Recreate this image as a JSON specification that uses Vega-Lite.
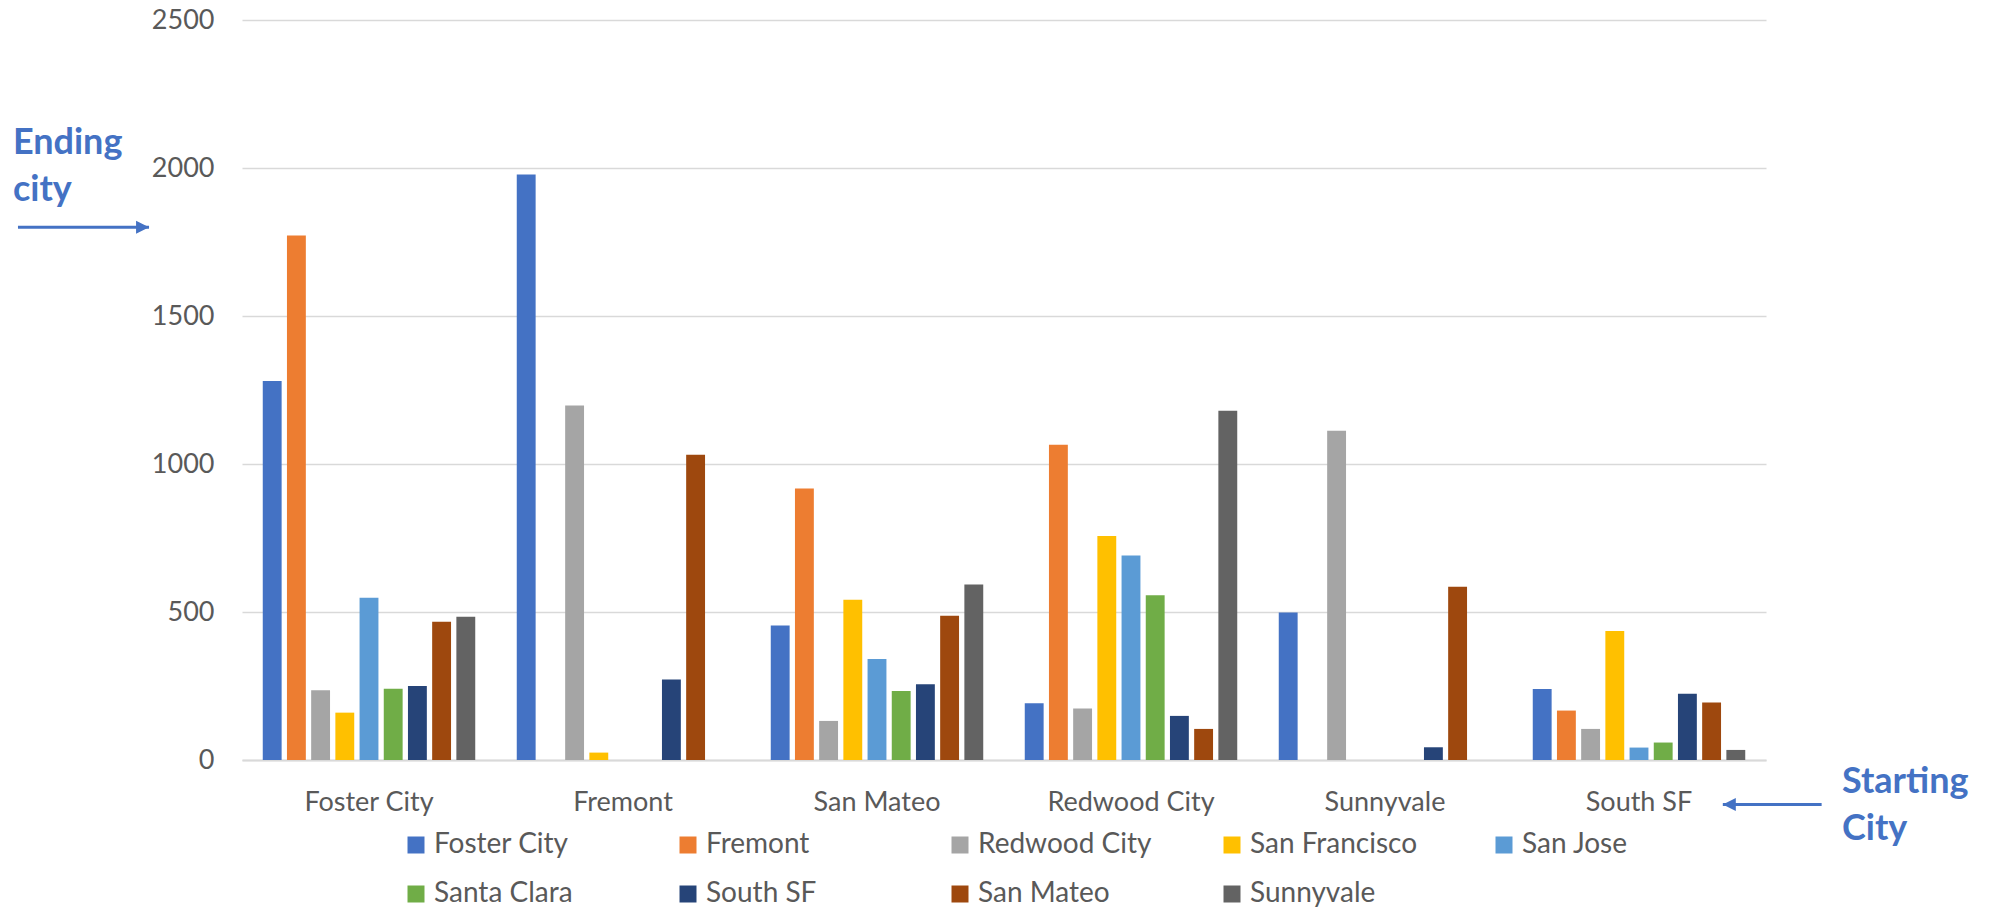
{
  "$schema": "https://vega.github.io/schema/vega-lite/v6.json",
  "autosize": {"type": "none"},
  "padding": {"left": 242, "top": 20, "right": 230, "bottom": 150},
  "width": 1524,
  "height": 740,
  "background": "white",
  "config": {
    "view": {"stroke": null},
    "font": "Lato",
    "axis": {"labelFont": "Lato", "labelColor": "#595959", "labelFontSize": 27},
    "legend": {"labelFont": "Lato", "labelColor": "#595959", "labelFontSize": 28}
  },
  "datasets": {
    "trips": [
      {"start": "Foster City", "end": "Foster City", "trips": 1280},
      {"start": "Foster City", "end": "Fremont", "trips": 1772},
      {"start": "Foster City", "end": "Redwood City", "trips": 236},
      {"start": "Foster City", "end": "San Francisco", "trips": 160},
      {"start": "Foster City", "end": "San Jose", "trips": 548},
      {"start": "Foster City", "end": "Santa Clara", "trips": 241},
      {"start": "Foster City", "end": "South SF", "trips": 250},
      {"start": "Foster City", "end": "San Mateo", "trips": 467},
      {"start": "Foster City", "end": "Sunnyvale", "trips": 484},
      {"start": "Fremont", "end": "Foster City", "trips": 1978},
      {"start": "Fremont", "end": "Redwood City", "trips": 1198},
      {"start": "Fremont", "end": "San Francisco", "trips": 25},
      {"start": "Fremont", "end": "South SF", "trips": 272},
      {"start": "Fremont", "end": "San Mateo", "trips": 1031},
      {"start": "San Mateo", "end": "Foster City", "trips": 454},
      {"start": "San Mateo", "end": "Fremont", "trips": 917},
      {"start": "San Mateo", "end": "Redwood City", "trips": 132},
      {"start": "San Mateo", "end": "San Francisco", "trips": 541},
      {"start": "San Mateo", "end": "San Jose", "trips": 341},
      {"start": "San Mateo", "end": "Santa Clara", "trips": 233},
      {"start": "San Mateo", "end": "South SF", "trips": 256},
      {"start": "San Mateo", "end": "San Mateo", "trips": 487},
      {"start": "San Mateo", "end": "Sunnyvale", "trips": 593},
      {"start": "Redwood City", "end": "Foster City", "trips": 192},
      {"start": "Redwood City", "end": "Fremont", "trips": 1065},
      {"start": "Redwood City", "end": "Redwood City", "trips": 174},
      {"start": "Redwood City", "end": "San Francisco", "trips": 757},
      {"start": "Redwood City", "end": "San Jose", "trips": 691},
      {"start": "Redwood City", "end": "Santa Clara", "trips": 557},
      {"start": "Redwood City", "end": "South SF", "trips": 149},
      {"start": "Redwood City", "end": "San Mateo", "trips": 105},
      {"start": "Redwood City", "end": "Sunnyvale", "trips": 1180},
      {"start": "Sunnyvale", "end": "Foster City", "trips": 498},
      {"start": "Sunnyvale", "end": "Redwood City", "trips": 1112},
      {"start": "Sunnyvale", "end": "South SF", "trips": 43},
      {"start": "Sunnyvale", "end": "San Mateo", "trips": 585},
      {"start": "South SF", "end": "Foster City", "trips": 240},
      {"start": "South SF", "end": "Fremont", "trips": 167},
      {"start": "South SF", "end": "Redwood City", "trips": 105},
      {"start": "South SF", "end": "San Francisco", "trips": 436},
      {"start": "South SF", "end": "San Jose", "trips": 42},
      {"start": "South SF", "end": "Santa Clara", "trips": 59},
      {"start": "South SF", "end": "South SF", "trips": 224},
      {"start": "South SF", "end": "San Mateo", "trips": 194},
      {"start": "South SF", "end": "Sunnyvale", "trips": 34}
    ],
    "notes": [
      {"label": "Ending", "ax": -0.902, "ay": 2047},
      {"label": "city", "ax": -0.902, "ay": 1888},
      {"label": "Starting", "ax": 6.299, "ay": -112},
      {"label": "City", "ax": 6.299, "ay": -270}
    ],
    "arrows": [
      {"dir": "right", "tail": -0.882, "tip": -0.366, "ay": 1800},
      {"dir": "left", "tail": 6.219, "tip": 5.830, "ay": -150}
    ]
  },
  "layer": [
    {
      "data": {"name": "trips"},
      "mark": {"type": "bar"},
      "encoding": {
        "x": {
          "field": "start",
          "type": "nominal",
          "sort": ["Foster City", "Fremont", "San Mateo", "Redwood City", "Sunnyvale", "South SF"],
          "scale": {"paddingInner": 0.1425, "paddingOuter": 0.07125},
          "axis": {
            "title": null,
            "labelAngle": 0,
            "ticks": false,
            "labelPadding": 29,
            "domainColor": "#D9D9D9",
            "domainWidth": 2,
            "grid": false
          }
        },
        "xOffset": {
          "field": "end",
          "type": "nominal",
          "scale": {
            "domain": ["Foster City", "Fremont", "Redwood City", "San Francisco", "San Jose", "Santa Clara", "South SF", "San Mateo", "Sunnyvale"],
            "paddingInner": 0.22,
            "paddingOuter": 0.11
          }
        },
        "y": {
          "field": "trips",
          "type": "quantitative",
          "scale": {"domain": [0, 2500], "nice": false},
          "axis": {
            "title": null,
            "values": [0, 500, 1000, 1500, 2000, 2500],
            "format": "d",
            "domain": false,
            "ticks": false,
            "labelPadding": 28,
            "gridColor": "#D9D9D9",
            "gridWidth": 1.5
          }
        },
        "color": {
          "field": "end",
          "type": "nominal",
          "scale": {
            "domain": ["Foster City", "Fremont", "Redwood City", "San Francisco", "San Jose", "Santa Clara", "South SF", "San Mateo", "Sunnyvale"],
            "range": ["#4472C4", "#ED7D31", "#A5A5A5", "#FFC000", "#5B9BD5", "#70AD47", "#264478", "#9E480E", "#636363"]
          },
          "legend": {
            "title": null,
            "orient": "none",
            "legendX": 160,
            "legendY": 811,
            "direction": "horizontal",
            "columns": 5,
            "gridAlign": "all",
            "symbolType": "square",
            "symbolSize": 289,
            "symbolStrokeWidth": 0,
            "labelOffset": 4,
            "labelLimit": 300,
            "columnPadding": 66,
            "rowPadding": 21,
            "padding": 0
          }
        }
      }
    },
    {
      "data": {"name": "arrows"},
      "mark": {"type": "rule", "color": "#4472C4", "strokeWidth": 3, "clip": false},
      "encoding": {
        "x": {"field": "tail", "type": "quantitative", "scale": {"domain": [0, 6], "nice": false, "zero": false}, "axis": null},
        "x2": {"field": "tip"},
        "y": {"field": "ay", "type": "quantitative", "scale": {"domain": [0, 2500], "nice": false}}
      }
    },
    {
      "data": {"name": "arrows"},
      "mark": {"type": "point", "filled": true, "opacity": 1, "color": "#4472C4", "size": 676, "strokeWidth": 0, "clip": false},
      "encoding": {
        "x": {"field": "tip", "type": "quantitative", "scale": {"domain": [0, 6], "nice": false, "zero": false}, "axis": null},
        "y": {"field": "ay", "type": "quantitative", "scale": {"domain": [0, 2500], "nice": false}},
        "shape": {
          "field": "dir",
          "type": "nominal",
          "scale": {"domain": ["right", "left"], "range": ["M0,0L-1,-0.5L-1,0.5Z", "M0,0L1,-0.5L1,0.5Z"]},
          "legend": null
        }
      }
    },
    {
      "data": {"name": "notes"},
      "mark": {"type": "text", "font": "Lato", "fontWeight": "bold", "fontSize": 36, "color": "#4472C4", "align": "left", "baseline": "alphabetic", "clip": false},
      "encoding": {
        "x": {"field": "ax", "type": "quantitative", "scale": {"domain": [0, 6], "nice": false, "zero": false}, "axis": null},
        "y": {"field": "ay", "type": "quantitative", "scale": {"domain": [0, 2500], "nice": false}},
        "text": {"field": "label"}
      }
    }
  ],
  "resolve": {"scale": {"x": "independent", "shape": "independent"}}
}
